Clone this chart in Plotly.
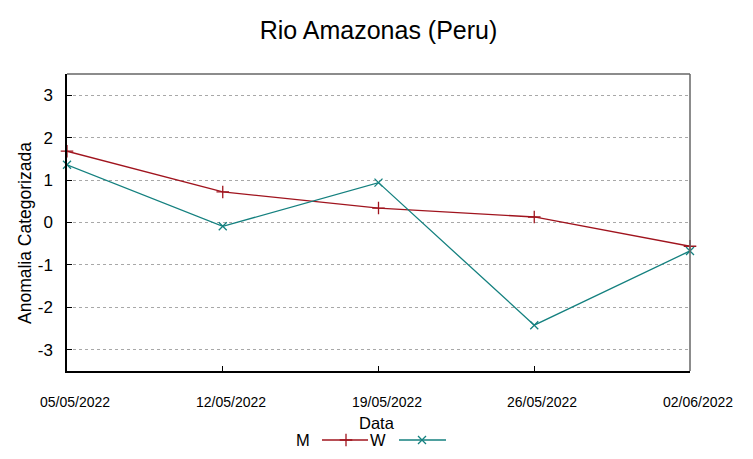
import plotly.graph_objects as go

dates = ["2022-05-05", "2022-05-12", "2022-05-19", "2022-05-26", "2022-06-02"]
date_labels = ["05/05/2022", "12/05/2022", "19/05/2022", "26/05/2022", "02/06/2022"]
m_values = [1.68, 0.72, 0.34, 0.13, -0.56]
w_values = [1.36, -0.09, 0.94, -2.42, -0.67]
y_ticks = [-3, -2, -1, 0, 1, 2, 3]
y_tick_labels = ["-3", "-2", "-1", "0", "1", "2", "3"]

RED = "#a0141e"
TEAL = "#14807f"

# page body has an 8px default margin, so the figure is shrunk by it
OFF = 8
WIN_W, WIN_H = 753, 459
FW, FH = WIN_W - OFF, WIN_H - OFF
PLOT_L, PLOT_R, PLOT_T, PLOT_B = 67, 690, 74, 371   # window pixel edges
L = PLOT_L - OFF
T = PLOT_T - OFF
R = FW - (PLOT_R - OFF)
B = 10
PH_ALL = FH - T - B
AREA_BOTTOM = WIN_H - B
MAIN_Y0 = (AREA_BOTTOM - PLOT_B) / PH_ALL
LEG_TOP = 0.2

def paper_x(px):
    return (px - PLOT_L) / (PLOT_R - PLOT_L)

def paper_y(py):
    return (AREA_BOTTOM - py) / PH_ALL

fig = go.Figure()
fig.add_trace(go.Scatter(
    x=dates, y=m_values, mode="lines+markers", name="M",
    line=dict(color=RED, width=1.3),
    marker=dict(symbol="cross-thin", size=9, line=dict(color=RED, width=1.3)),
    showlegend=False, cliponaxis=False))
fig.add_trace(go.Scatter(
    x=dates, y=w_values, mode="lines+markers", name="W",
    line=dict(color=TEAL, width=1.3),
    marker=dict(symbol="x-thin", size=8, line=dict(color=TEAL, width=1.3)),
    showlegend=False, cliponaxis=False))

# legend key markers, drawn on a small pixel-scaled helper subplot
fig.add_trace(go.Scatter(
    x=[346], y=[440], mode="markers", xaxis="x3", yaxis="y3",
    marker=dict(symbol="cross-thin", size=9, line=dict(color=RED, width=1.3)),
    showlegend=False, cliponaxis=False, hoverinfo="skip"))
fig.add_trace(go.Scatter(
    x=[422], y=[440], mode="markers", xaxis="x3", yaxis="y3",
    marker=dict(symbol="x-thin", size=8, line=dict(color=TEAL, width=1.3)),
    showlegend=False, cliponaxis=False, hoverinfo="skip"))

shapes = [
    dict(type="line", xref="x domain", yref="y domain", x0=0, x1=1, y0=1, y1=1,
         line=dict(color="#666666", width=1.5)),
    dict(type="line", xref="x domain", yref="y domain", x0=1, x1=1, y0=0, y1=1,
         line=dict(color="#666666", width=1.5)),
    dict(type="line", xref="x3", yref="y3", x0=322, x1=368, y0=440, y1=440,
         line=dict(color=RED, width=1.3)),
    dict(type="line", xref="x3", yref="y3", x0=399, x1=446, y0=440, y1=440,
         line=dict(color=TEAL, width=1.3)),
]

annotations = [
    dict(text="M", xref="x3", yref="y3", x=303, y=440,
         xanchor="center", yanchor="middle", showarrow=False, font=dict(size=16.5)),
    dict(text="W", xref="x3", yref="y3", x=378, y=440,
         xanchor="center", yanchor="middle", showarrow=False, font=dict(size=16.5)),
    dict(text="Data", xref="x3", yref="y3", x=377, y=423,
         xanchor="center", yanchor="middle", showarrow=False, font=dict(size=16.5)),
    dict(text="Anomalia Categorizada", xref="paper", yref="paper",
         x=paper_x(25), y=paper_y(233), textangle=-90,
         xanchor="center", yanchor="middle", showarrow=False, font=dict(size=17.5)),
]
for d, lab in zip(dates, date_labels):
    annotations.append(dict(
        text=lab, xref="x", yref="y3", x=d, y=402, xshift=8,
        xanchor="center", yanchor="middle", showarrow=False,
        font=dict(size=14)))

fig.update_layout(
    width=FW, height=FH,
    margin=dict(l=L, r=R, t=T, b=B),
    paper_bgcolor="white", plot_bgcolor="white",
    font=dict(family="Liberation Sans, Arial, sans-serif", color="#000000"),
    title=dict(text="Rio Amazonas (Peru)", x=0.5, xref="paper", xanchor="center",
               y=1 - (30 - OFF) / FH, yanchor="middle", font=dict(size=25)),
    xaxis=dict(
        type="date", range=[dates[0], dates[-1]], domain=[0, 1], anchor="y",
        tickvals=dates, showticklabels=False,
        ticks="inside", ticklen=5, tickcolor="#000000", tickwidth=1,
        showline=True, linecolor="#000000", linewidth=1.5,
        showgrid=False, zeroline=False, automargin=False,
    ),
    yaxis=dict(
        range=[-3.5, 3.5], domain=[MAIN_Y0, 1], anchor="x",
        tickvals=y_ticks, ticktext=y_tick_labels,
        ticks="inside", ticklen=5, tickcolor="#000000", tickwidth=1,
        showline=True, linecolor="#000000", linewidth=1.5,
        showgrid=True, gridcolor="#a8a8a8", griddash="dot", gridwidth=1,
        zeroline=False, ticklabelstandoff=9, automargin=False,
        tickfont=dict(size=17),
    ),
    yaxis2=dict(
        range=[-3.5, 3.5], domain=[MAIN_Y0, 1], tickvals=y_ticks,
        overlaying="y", side="right", anchor="x",
        ticks="inside", ticklen=5, tickcolor="#333333", showticklabels=False,
        showline=False, showgrid=False, zeroline=False, automargin=False,
    ),
    xaxis3=dict(range=[PLOT_L, PLOT_R], domain=[0, 1], anchor="y3",
                visible=False, fixedrange=True),
    yaxis3=dict(range=[AREA_BOTTOM, AREA_BOTTOM - LEG_TOP * PH_ALL],
                domain=[0, LEG_TOP], anchor="x3", visible=False, fixedrange=True),
    shapes=shapes,
    annotations=annotations,
)

fig.write_html("out.html")
